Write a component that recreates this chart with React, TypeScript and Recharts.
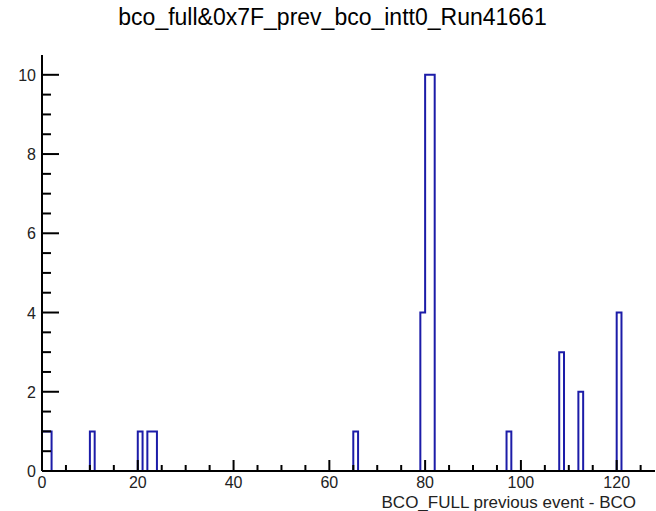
import React from 'react';
import { LineChart, Line, XAxis, YAxis, Label } from 'recharts';

// non-empty bins of the histogram (bin width 1, 128 bins from 0 to 128)
const filledBins = [0, 1, 10, 20, 22, 23, 65, 79, 80, 81, 97, 108, 112, 120];
const binCounts = [1, 1, 1, 1, 1, 1, 1, 4, 10, 10, 1, 3, 2, 4];
const nBins = 128;

const xTicks = Array.from({ length: 26 }, (_, i) => i * 5);
const yTicks = Array.from({ length: 21 }, (_, i) => i * 0.5);

const titleText = 'bco_full&0x7F_prev_bco_intt0_Run41661';
const xTitle = 'BCO_FULL previous event - BCO';

// one point per bin edge, last one closes the step
const histData = Array.from({ length: nBins + 1 }, (_, i) => {
  const k = filledBins.indexOf(i);
  return { x: i, count: k >= 0 ? binCounts[k] : 0 };
});

const FONT = 'Arial, "Liberation Sans", sans-serif';
const LINE_COLOR = '#1c1ca8';

const XTick = (props: any) => {
  const { x, y, payload } = props;
  const major = payload.value % 20 === 0;
  return (
    <g>
      <line x1={x} x2={x} y1={y} y2={y - (major ? 11 : 6)} stroke="#000" strokeWidth={2} />
      {major && (
        <text x={x} y={y + 17} textAnchor="middle" fontSize={16} fontFamily={FONT} fill="#222">
          {payload.value}
        </text>
      )}
    </g>
  );
};

const YTick = (props: any) => {
  const { x, y, payload } = props;
  const major = payload.value % 2 === 0;
  return (
    <g>
      <line x1={x} x2={x + (major ? 17 : 9)} y1={y} y2={y} stroke="#000" strokeWidth={2} />
      {major && (
        <text x={x - 6} y={y + 6} textAnchor="end" fontSize={16} fontFamily={FONT} fill="#222">
          {payload.value}
        </text>
      )}
    </g>
  );
};

export default function App() {
  return (
    <div style={{ position: 'absolute', left: 0, top: 0, width: 656, height: 511, background: '#fff' }}>
      <div
        style={{
          position: 'absolute', left: 0, top: 4, width: 665, textAlign: 'center',
          fontFamily: FONT, fontSize: 23, color: '#000',
        }}
      >
        {titleText}
      </div>
      <LineChart
        width={656}
        height={511}
        data={histData}
        margin={{ top: 55, right: 1, bottom: 0, left: 0 }}
      >
        <XAxis
          dataKey="x"
          type="number"
          domain={[0, nBins]}
          ticks={xTicks}
          interval={0}
          height={40}
          tickSize={0}
          tickMargin={0}
          tick={XTick}
          tickLine={false}
          axisLine={{ stroke: '#000', strokeWidth: 2 }}
        >
          <Label
            content={() => (
              <text x={636} y={508} textAnchor="end" fontSize={17} fontFamily={FONT} fill="#222">
                {xTitle}
              </text>
            )}
          />
        </XAxis>
        <XAxis
          xAxisId="top"
          orientation="top"
          dataKey="x"
          type="number"
          domain={[0, nBins]}
          height={0}
          tick={false}
          tickLine={false}
          axisLine={{ stroke: '#000', strokeWidth: 2 }}
        />
        <YAxis
          type="number"
          domain={[0, 10.5]}
          ticks={yTicks}
          interval={0}
          width={42}
          tickSize={0}
          tickMargin={0}
          tick={YTick}
          tickLine={false}
          axisLine={{ stroke: '#000', strokeWidth: 2 }}
        />
        <YAxis
          yAxisId="right"
          orientation="right"
          type="number"
          domain={[0, 10.5]}
          width={0}
          tick={false}
          tickLine={false}
          axisLine={{ stroke: '#888', strokeWidth: 1 }}
        />
        <Line
          type="stepAfter"
          dataKey="count"
          stroke={LINE_COLOR}
          strokeWidth={2}
          dot={false}
          activeDot={false}
          isAnimationActive={false}
        />
      </LineChart>
    </div>
  );
}
